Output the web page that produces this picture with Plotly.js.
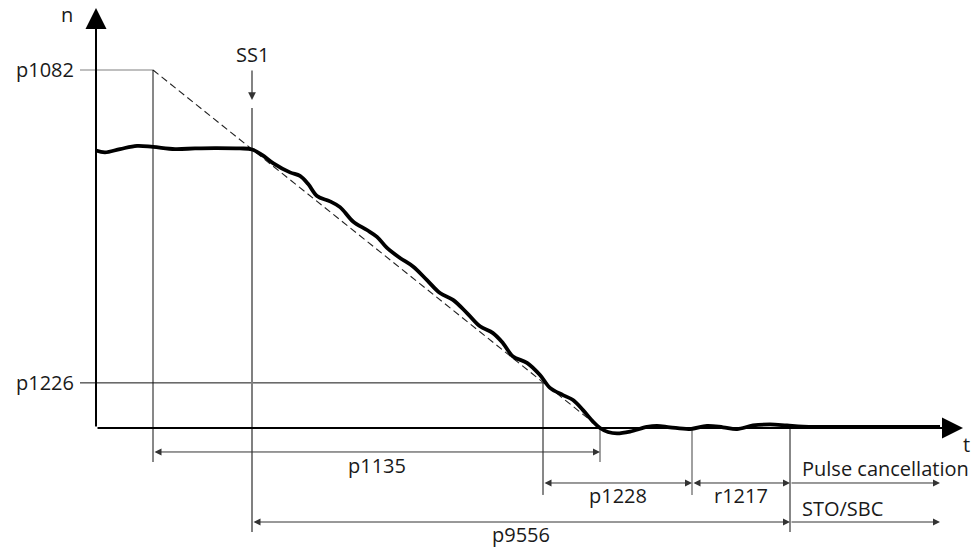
<!DOCTYPE html>
<html>
<head>
<meta charset="utf-8">
<script src="https://cdn.plot.ly/plotly-3.0.1.min.js"></script>
<style>html,body{margin:0;padding:0;background:#fff;}#chart{width:976px;height:547px;}</style>
</head>
<body>
<div id="chart"></div>
<script>
// ---- Data (time t in arbitrary units, speed n in % of p1082) ----
const curveT = [0, 0.9, 2.4, 4.1, 5.7, 7.9, 9.9, 11.9, 14.4, 15.6,
  16.6, 17.7, 19.4, 20.4, 21.2, 22.1, 23.4, 24.4, 25.7, 27.1, 28.1, 29.1, 30.4, 31.7,
  33.1, 34.4, 35.7, 37.1, 38.4, 39.7, 40.7, 41.7, 43.1, 44.4, 45.4, 46.7, 47.7, 48.7,
  49.7, 50.4, 51.2, 52.1, 53.4, 55.1, 56.1, 57.4, 59.4, 61.1, 62.7, 64.1, 65.7, 67.4,
  69.1, 70.7, 76.4, 84.4];
const curveN = [77.5, 77.0, 77.9, 78.8, 78.5, 77.9, 78.1, 78.2, 78.1, 77.8,
  76.3, 74.0, 71.4, 70.4, 68.2, 64.8, 63.3, 61.7, 57.7, 55.3, 53.4, 50.3, 47.5, 45.1,
  41.3, 37.7, 35.8, 32.1, 28.4, 26.5, 23.7, 20.0, 18.2, 14.8, 11.2, 9.2, 7.8, 5.0,
  1.8, 0, -1.1, -1.5, -1.0, 0.3, 0.6, 0.2, -0.3, 0.6, 0.2, -0.3, 0.7, 1.0,
  0.7, 0.4, 0.3, 0.3];

const levelNames = ['p1082', 'p1226'];
const levelValues = [100, 12.6];

const tRampStart = 5.7;   // p1082 reached / ramp reference start
const tSS1 = 15.6;        // SS1 triggered
const tP1226 = 44.7;      // speed below p1226
const tZero = 50.4;       // ramp reaches zero
const tP1228End = 59.6;
const tR1217End = 69.4;   // pulse cancellation / STO
const tArrowEnd = 84.4;

const dimLabels = ['p1135', 'p1228', 'r1217', 'p9556'];
const dimStart = [tRampStart, tP1226, tP1228End, tSS1];
const dimEnd = [tZero, tP1228End, tR1217End, tR1217End];
const stateLabels = ['Pulse cancellation', 'STO/SBC'];

// ---- Layout configuration (positions / styles) ----
const FONT = {family: 'Open Sans, Noto Sans, sans-serif', size: 20, color: '#1a1a1a'};
const GRAY = '#808080';
const DIM = '#333333';
const dimRow = [-6.7, -15.36, -15.36, -26.26];
const dimShift = [-14, -13, -13, -12];
const stateRow = [-15.36, -26.26];
const vBottom = {a: -9.5, b: -18.7, c: -29.05};
const axisTopN = 117.3, axisTipT = 86.7;
const labelT = -2.1, lineStartT = -1.6;

const shapes = [];
const annotations = [];
function line(x0, y0, x1, y1, color, width, dash) {
  shapes.push({type: 'line', xref: 'x', yref: 'y', x0, y0, x1, y1, layer: 'below',
    line: {color, width, dash: dash || 'solid'}});
}
function arrow(xTail, yTail, xHead, yHead, color, width, head, size, both) {
  annotations.push({x: xHead, y: yHead, ax: xTail, ay: yTail, xref: 'x', yref: 'y',
    axref: 'x', ayref: 'y', text: '', showarrow: true, arrowhead: head, arrowsize: size,
    arrowwidth: width, arrowcolor: color, standoff: 0, startstandoff: 0,
    arrowside: both ? 'end+start' : 'end', startarrowhead: head, startarrowsize: size});
}
function label(text, x, y, xanchor, yshift) {
  annotations.push({x, y, xref: 'x', yref: 'y', text, showarrow: false, font: FONT,
    xanchor: xanchor || 'center', yanchor: 'middle', yshift: yshift || 0, borderpad: 0});
}

// level lines
line(lineStartT, levelValues[0], tRampStart, levelValues[0], GRAY, 1.2);
line(lineStartT, levelValues[1], tP1226, levelValues[1], '#111', 1);
levelNames.forEach((nm, i) => label(nm, labelT, levelValues[i], 'right'));

// ramp reference (dashed)
line(tRampStart, levelValues[0], tZero, 0, '#222', 1.1, '7px,4px');

// verticals
line(tRampStart, levelValues[0], tRampStart, vBottom.a, '#111', 1);
line(tSS1, 89.4, tSS1, vBottom.c, GRAY, 2);
line(tP1226, levelValues[1], tP1226, vBottom.b, '#111', 1);
line(tZero, 0, tZero, vBottom.a, GRAY, 1.5);
line(tP1228End, 0, tP1228End, vBottom.b, GRAY, 1.5);
line(tR1217End, 0, tR1217End, vBottom.c, '#111', 1);

// SS1 trigger arrow
arrow(tSS1, 100.3, tSS1, 91.6, '#333', 1.2, 2, 1.3, false);
label('SS1', tSS1, 104.2);

// dimension arrows
dimLabels.forEach((nm, i) => {
  arrow(dimStart[i], dimRow[i], dimEnd[i], dimRow[i], DIM, 1, 2, 1.4, true);
  label(nm, (dimStart[i] + dimEnd[i]) / 2, dimRow[i], 'center', dimShift[i]);
});
stateLabels.forEach((nm, i) => {
  arrow(tR1217End, stateRow[i], tArrowEnd, stateRow[i], DIM, 1, 2, 1.4, false);
  label(nm, tR1217End + 1.1, stateRow[i], 'left', 14);
});

// axes with arrowheads
arrow(0, 0, 0, axisTopN, '#000', 2, 2, 2.1, false);
arrow(0, 0, axisTipT, 0, '#000', 2, 2, 2.1, false);
label('n', -2.9, 115.4);
label('t', 87.0, -4.6);

const traces = [{
  x: curveT, y: curveN, type: 'scatter', mode: 'lines',
  line: {color: '#000', width: 3.8, shape: 'spline', smoothing: 1.0},
  hoverinfo: 'skip'
}];

const layout = {
  width: 976, height: 547,
  margin: {l: 0, r: 0, t: 0, b: 0},
  paper_bgcolor: '#fff', plot_bgcolor: '#fff',
  showlegend: false,
  xaxis: {range: [-9.6, 88.0], visible: false, fixedrange: true},
  yaxis: {range: [-33.24, 119.55], visible: false, fixedrange: true},
  shapes, annotations
};
Plotly.newPlot('chart', traces, layout, {displayModeBar: false, staticPlot: true});
</script>
</body>
</html>
